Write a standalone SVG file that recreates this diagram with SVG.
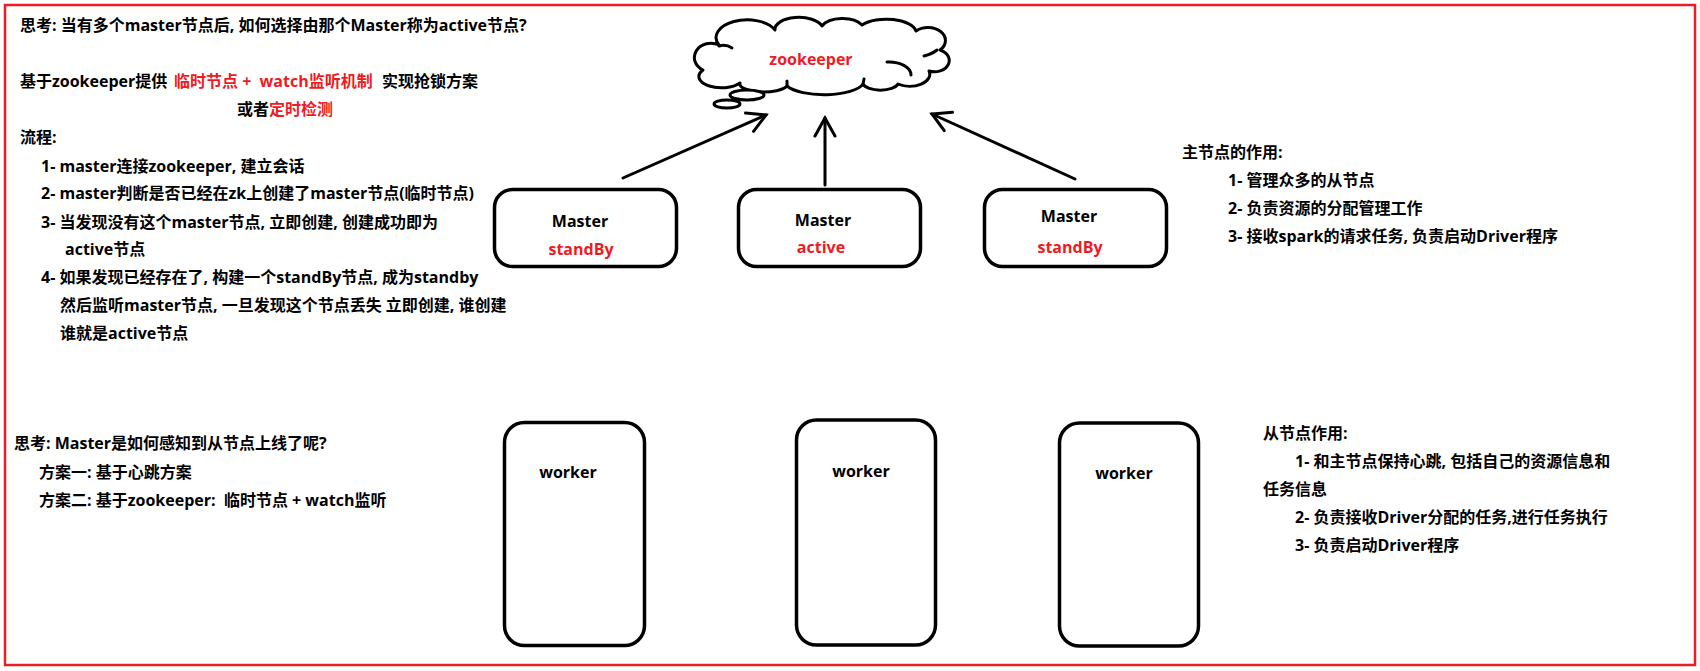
<svg xmlns="http://www.w3.org/2000/svg" width="1700" height="671" viewBox="0 0 1700 671">
<style>
text{font-family:"Open Sans","Noto Sans CJK SC",sans-serif;font-weight:bold;font-size:16px;fill:#000;}
.r{fill:#ed1c24;}
.c{text-anchor:middle;}
.box{fill:#fff;stroke:#000;stroke-width:3.5;}
.ln{fill:none;stroke:#000;stroke-width:3;stroke-linecap:round;}
.cl{fill:none;stroke:#000;stroke-width:3;stroke-linejoin:round;stroke-linecap:round;}
</style>
<defs>
<marker id="ah" markerUnits="userSpaceOnUse" markerWidth="24" markerHeight="24" viewBox="0 0 24 24" refX="21" refY="12" orient="auto">
<path d="M3,2 L21,12 L3,22" fill="none" stroke="#000" stroke-width="3" stroke-linecap="round" stroke-linejoin="miter"/>
</marker>
</defs>
<rect x="5" y="5" width="1690" height="660" fill="#fff" stroke="#ed1c24" stroke-width="2.5"/>

<g id="notes-left">
<text x="20" y="31">思考: 当有多个master节点后, 如何选择由那个Master称为active节点?</text>
<text x="20" y="87" xml:space="preserve">基于zookeeper提供 <tspan class="r" x="174">临时节点 +  watch监听机制</tspan><tspan x="382">实现抢锁方案</tspan></text>
<text x="237" y="115">或者<tspan class="r" x="269">定时检测</tspan></text>
<text x="20" y="143">流程:</text>
<text x="41" y="172">1- master连接zookeeper, 建立会话</text>
<text x="41" y="199">2- master判断是否已经在zk上创建了master节点(临时节点)</text>
<text x="41" y="228">3- 当发现没有这个master节点, 立即创建, 创建成功即为</text>
<text x="65" y="255">active节点</text>
<text x="41" y="283">4- 如果发现已经存在了, 构建一个standBy节点, 成为standby</text>
<text x="60" y="311">然后监听master节点, 一旦发现这个节点丢失 立即创建, 谁创建</text>
<text x="60" y="339">谁就是active节点</text>
</g>

<g id="notes-master-role">
<text x="1182" y="158">主节点的作用:</text>
<text x="1228" y="186">1- 管理众多的从节点</text>
<text x="1228" y="214">2- 负责资源的分配管理工作</text>
<text x="1228" y="242">3- 接收spark的请求任务, 负责启动Driver程序</text>
</g>

<g id="notes-worker-detect">
<text x="14" y="449">思考: Master是如何感知到从节点上线了呢?</text>
<text x="39" y="478">方案一: 基于心跳方案</text>
<text x="39" y="506" xml:space="preserve">方案二: 基于zookeeper:  临时节点 + watch监听</text>
</g>

<g id="notes-worker-role">
<text x="1263" y="439">从节点作用:</text>
<text x="1295" y="467">1- 和主节点保持心跳, 包括自己的资源信息和</text>
<text x="1263" y="495">任务信息</text>
<text x="1295" y="523">2- 负责接收Driver分配的任务,进行任务执行</text>
<text x="1295" y="551">3- 负责启动Driver程序</text>
</g>

<g id="zookeeper">
<path class="cl" d="M703,70 A14 12 0 0 1 719,45 A28 16 0 0 1 775,30 A24 12 0 0 1 822,26 A22 12 0 0 1 862,25 A30 14 0 0 1 916,31 A16 12 0 0 1 940,50 A13 10 0 0 1 929,71 A20 12 0 0 1 898,84 A18 8 0 0 1 863,84 A40 14 0 0 1 787,86 A24 8 0 0 1 740,83 A20 10 0 0 1 703,70 Z"/>
<path class="cl" d="M719,46 Q726,44 732,48"/>
<path class="cl" d="M887,62 A22 13 0 0 1 911,75"/>
<path class="cl" d="M924,56 Q932,54 937,50"/>
<path class="cl" d="M863,84 L864,79"/>
<path class="cl" d="M787,86 L787,81"/>
<ellipse cx="747" cy="95" rx="17" ry="5" fill="#fff" stroke="#000" stroke-width="3"/>
<ellipse cx="727" cy="104" rx="13" ry="4" fill="#fff" stroke="#000" stroke-width="3"/>
<text class="r c" x="811" y="65">zookeeper</text>
</g>

<g id="connectors">
<line class="ln" x1="623" y1="178" x2="766" y2="115" marker-end="url(#ah)"/>
<line class="ln" x1="825" y1="185" x2="825" y2="118" marker-end="url(#ah)"/>
<line class="ln" x1="1075" y1="179" x2="932" y2="114" marker-end="url(#ah)"/>
</g>

<g id="master-standby-1">
<rect class="box" x="494.5" y="189.5" width="182" height="77" rx="18"/>
<text class="c" x="580" y="227">Master</text>
<text class="r c" x="581" y="255">standBy</text>
</g>
<g id="master-active">
<rect class="box" x="738.5" y="189.5" width="182" height="77" rx="18"/>
<text class="c" x="823" y="226">Master</text>
<text class="r c" x="821" y="253">active</text>
</g>
<g id="master-standby-2">
<rect class="box" x="984.5" y="189.5" width="182" height="77" rx="18"/>
<text class="c" x="1069" y="222">Master</text>
<text class="r c" x="1070" y="253">standBy</text>
</g>

<g id="worker-1">
<rect class="box" x="504.5" y="422.5" width="140" height="223" rx="20"/>
<text class="c" x="568" y="478">worker</text>
</g>
<g id="worker-2">
<rect class="box" x="796.5" y="420" width="139" height="225" rx="20"/>
<text class="c" x="861" y="477">worker</text>
</g>
<g id="worker-3">
<rect class="box" x="1059.5" y="423" width="139" height="223" rx="20"/>
<text class="c" x="1124" y="479">worker</text>
</g>
</svg>
